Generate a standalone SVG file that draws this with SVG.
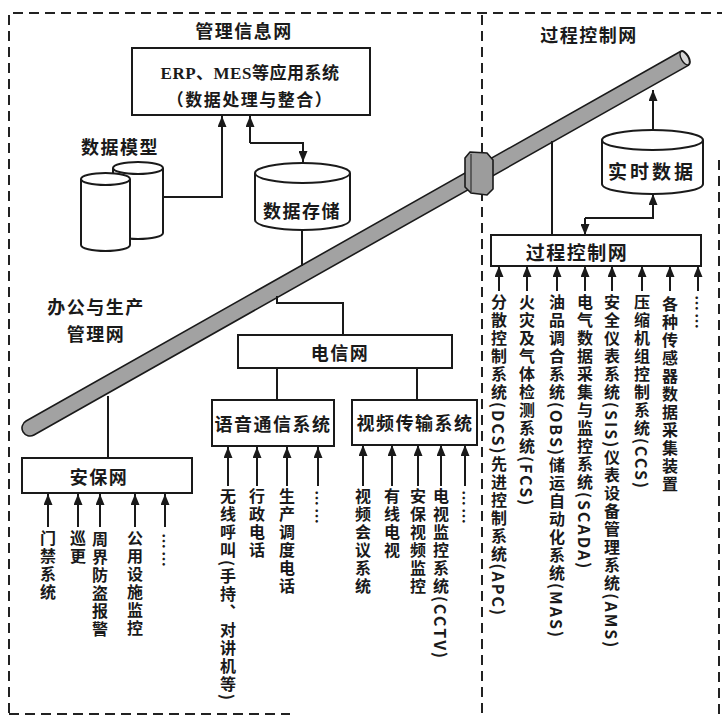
<svg xmlns="http://www.w3.org/2000/svg" width="722" height="717" viewBox="0 0 722 717">
  <style>
    .t { font-family: "Noto Sans CJK SC", "Noto Sans", sans-serif; font-size: 18px; font-weight: 600; fill: #1a1a1a; text-anchor: middle; dominant-baseline: central; letter-spacing: 1.5px; }
    .vt { font-family: "Noto Sans CJK SC", "Noto Sans", sans-serif; font-size: 16px; font-weight: 600; fill: #1a1a1a; writing-mode: vertical-rl; text-orientation: mixed; letter-spacing: 2px; }
    .box { fill: #fff; stroke: #1a1a1a; stroke-width: 2; }
    .wire { fill: none; stroke: #1a1a1a; stroke-width: 2; }
    .arr { marker-end: url(#ah); }
    .dash { fill: none; stroke: #222; stroke-width: 2; stroke-dasharray: 10 6; }
    .cyl { fill: #fff; stroke: #1a1a1a; stroke-width: 2; }
  </style>
  <defs>
    <marker id="ah" markerUnits="userSpaceOnUse" markerWidth="11" markerHeight="9" refX="11" refY="4.5" orient="auto">
      <path d="M0,0 L11,4.5 L0,9 Z" fill="#1a1a1a"/>
    </marker>
  </defs>

  <!-- zone borders -->
  <g id="zones">
    <path class="dash" d="M9,713 L9,13 L722,13"/>
    <path class="dash" d="M482,15 L482,717"/>
    <path class="dash" d="M719,160 L719,717"/>
    <path class="dash" d="M9,714 L290,714" stroke="#999"/>
  </g>

  <g id="mgmt-title"><text class="t" x="244" y="30">管理信息网</text></g>
  <g id="process-title"><text class="t" x="589" y="34">过程控制网</text></g>

  <!-- backbone pipe -->
  <g id="backbone" transform="translate(30,428) rotate(-29.46)">
    <path d="M0,-8 L752,-8 A4,8 0 0 1 752,8 L0,8 A8,8 0 0 1 0,-8 Z" fill="#a2a2a2" stroke="#1a1a1a" stroke-width="1.6"/>
    <ellipse cx="752" cy="0" rx="3.5" ry="7.5" fill="#d8d8d8" stroke="#1a1a1a" stroke-width="1.4"/>
  </g>

  <!-- connectors -->
  <g id="connectors">
    <path class="wire arr" d="M163,197 L222,197 L222,116"/>
    <path class="wire arr" d="M250,143 L250,116"/>
    <path class="wire arr" d="M250,143 L303,143 L303,162"/>
    <path class="wire" d="M302,231 L302,266"/>
    <path class="wire" d="M108,396 L108,458"/>
    <path class="wire" d="M277,296 L277,303 L343,303 L343,335"/>
    <path class="wire" d="M277,368 L277,400"/>
    <path class="wire" d="M417,368 L417,400"/>
    <path class="wire" d="M552,141 L552,235"/>
    <path class="wire arr" d="M653,130 L653,90"/>
    <path class="wire arr" d="M585,218 L653,218 L653,194"/>
    <path class="wire arr" d="M585,218 L585,235"/>

    <!-- security sources -->
    <path class="wire arr" d="M48,527 L48,494"/>
    <path class="wire arr" d="M78,527 L78,494"/>
    <path class="wire arr" d="M100,527 L100,494"/>
    <path class="wire arr" d="M135,527 L135,494"/>
    <path class="wire arr" d="M165,527 L165,494"/>
    <!-- voice sources -->
    <path class="wire arr" d="M228,486 L228,447"/>
    <path class="wire arr" d="M257,486 L257,447"/>
    <path class="wire arr" d="M287,486 L287,447"/>
    <path class="wire arr" d="M318,486 L318,447"/>
    <!-- video sources -->
    <path class="wire arr" d="M363,486 L363,445"/>
    <path class="wire arr" d="M392,486 L392,445"/>
    <path class="wire arr" d="M418,486 L418,445"/>
    <path class="wire arr" d="M441,486 L441,445"/>
    <path class="wire arr" d="M465,486 L465,445"/>
    <!-- process sources -->
    <path class="wire arr" d="M499,291 L499,266"/>
    <path class="wire arr" d="M527,291 L527,266"/>
    <path class="wire arr" d="M557,291 L557,266"/>
    <path class="wire arr" d="M585,291 L585,266"/>
    <path class="wire arr" d="M612,291 L612,266"/>
    <path class="wire arr" d="M642,291 L642,266"/>
    <path class="wire arr" d="M670,291 L670,266"/>
    <path class="wire arr" d="M698,291 L698,266"/>
  </g>

  <!-- gateway between zones -->
  <g id="gateway">
    <polygon points="470,152 487,153 493,160 493,189 487,195 471,193 465,187 465,158" fill="#9c9c9c" stroke="#1a1a1a" stroke-width="1.6"/>
    <path d="M471,154 L471,192" stroke="#1a1a1a" stroke-width="1"/>
  </g>

  <g id="erp">
    <rect class="box" x="132" y="48" width="238" height="67"/>
    <text class="t" x="250" y="73" style="font-family:'Liberation Serif','Noto Sans CJK SC',serif;font-size:17px;letter-spacing:0.5px">ERP、MES等应用系统</text>
    <text class="t" x="250" y="98" style="font-size:17px;letter-spacing:1.5px">（数据处理与整合）</text>
  </g>

  <g id="data-model">
    <text class="t" x="120" y="146">数据模型</text>
    <path class="cyl" d="M113,168 L113,233 A25,6 0 0 0 163,233 L163,168"/>
    <ellipse class="cyl" cx="138" cy="168" rx="25" ry="6"/>
    <path class="cyl" d="M81,179 L81,245 A24.5,6 0 0 0 130,245 L130,179"/>
    <ellipse class="cyl" cx="105.5" cy="179" rx="24.5" ry="6"/>
  </g>

  <g id="data-storage">
    <path class="cyl" d="M255,173 L255,220 A47.5,10 0 0 0 350,220 L350,173"/>
    <ellipse class="cyl" cx="302.5" cy="173" rx="47.5" ry="10"/>
    <text class="t" x="302" y="210">数据存储</text>
  </g>

  <g id="realtime-data">
    <path class="cyl" d="M602,140 L602,184 A50.5,10 0 0 0 703,184 L703,140"/>
    <ellipse class="cyl" cx="652.5" cy="140" rx="50.5" ry="10"/>
    <text class="t" x="652" y="170" style="font-size:19px;letter-spacing:3px">实时数据</text>
  </g>

  <g id="office-label">
    <text class="t" x="96" y="306">办公与生产</text>
    <text class="t" x="96" y="333">管理网</text>
  </g>

  <g id="telecom">
    <rect class="box" x="238" y="335" width="214" height="33"/>
    <text class="t" x="340" y="352">电信网</text>
  </g>

  <g id="voice">
    <rect class="box" x="212" y="400" width="122" height="46"/>
    <text class="t" x="273" y="423">语音通信系统</text>
  </g>

  <g id="video">
    <rect class="box" x="352" y="400" width="125" height="45"/>
    <text class="t" x="415" y="422">视频传输系统</text>
  </g>

  <g id="security">
    <rect class="box" x="22" y="458" width="170" height="35"/>
    <text class="t" x="99" y="476">安保网</text>
  </g>

  <g id="pcn">
    <rect class="box" x="491" y="235" width="210" height="31"/>
    <text class="t" x="577" y="251" style="font-size:19px">过程控制网</text>
  </g>

  <g id="security-sources">
    <text class="vt" x="48" y="530">门禁系统</text>
    <text class="vt" x="78" y="530">巡更</text>
    <text class="vt" x="100" y="531">周界防盗报警</text>
    <text class="vt" x="135" y="530">公用设施监控</text>
    <text class="vt" x="165" y="533">……</text>
  </g>

  <g id="voice-sources">
    <text class="vt" x="228" y="488">无线呼叫(手持、对讲机等)</text>
    <text class="vt" x="257" y="488">行政电话</text>
    <text class="vt" x="287" y="488">生产调度电话</text>
    <text class="vt" x="318" y="490">……</text>
  </g>

  <g id="video-sources">
    <text class="vt" x="363" y="488">视频会议系统</text>
    <text class="vt" x="392" y="488">有线电视</text>
    <text class="vt" x="418" y="488">安保视频监控</text>
    <text class="vt" x="441" y="488">电视监控系统(CCTV)</text>
    <text class="vt" x="465" y="490">……</text>
  </g>

  <g id="process-sources">
    <text class="vt" x="499" y="294">分散控制系统(DCS)先进控制系统(APC)</text>
    <text class="vt" x="527" y="294">火灾及气体检测系统(FCS)</text>
    <text class="vt" x="557" y="294">油品调合系统(OBS)储运自动化系统(MAS)</text>
    <text class="vt" x="585" y="294">电气数据采集与监控系统(SCADA)</text>
    <text class="vt" x="612" y="294">安全仪表系统(SIS)仪表设备管理系统(AMS)</text>
    <text class="vt" x="642" y="294">压缩机组控制系统(CCS)</text>
    <text class="vt" x="670" y="296">各种传感器数据采集装置</text>
    <text class="vt" x="698" y="295">……</text>
  </g>
</svg>
